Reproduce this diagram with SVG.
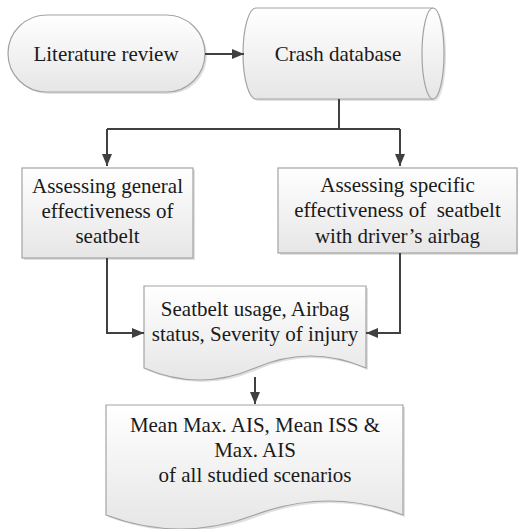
<svg xmlns="http://www.w3.org/2000/svg" width="518" height="529" viewBox="0 0 518 529">
<style>
.shape{fill:url(#g);stroke:#a3a3a3;stroke-width:1.2}
.sh{fill:#000;opacity:0.12}
.t{font-family:"Times New Roman",Times,"Liberation Serif","DejaVu Serif","Noto Serif",Tinos,FreeSerif,serif;font-size:21px;fill:#1a1a1a;text-anchor:middle;white-space:pre}
.c{fill:none;stroke:#404040;stroke-width:2}
</style>
<defs>
<linearGradient id="g" x1="0" y1="0" x2="0" y2="1">
<stop offset="0" stop-color="#ffffff"/>
<stop offset="1" stop-color="#e6e6e6"/>
</linearGradient>
<marker id="a" viewBox="0 0 12 10" refX="12" refY="5" markerWidth="12" markerHeight="10" markerUnits="userSpaceOnUse" orient="auto">
<path d="M0,0 L12,5 L0,10 Z" fill="#404040"/>
</marker>
</defs>
<g id="lit">
<rect class="sh" x="10" y="17" width="197" height="77" rx="38.5"/>
<rect class="shape" x="8" y="15" width="197" height="77" rx="38.5"/>
<text class="t" x="106" y="61">Literature review</text>
</g>
<g id="db">
<path class="sh" d="M258,10 H435 A11,45.5 0 0 1 435,101 H258 A13,45.5 0 0 1 258,10 Z"/>
<path class="shape" d="M256,8 H433 A11,45.5 0 0 1 433,99 H256 A13,45.5 0 0 1 256,8 Z"/>
<path d="M433,8 A11,45.5 0 0 0 433,99" fill="none" stroke="#a3a3a3" stroke-width="1.2"/>
<text class="t" x="338" y="61">Crash database</text>
</g>
<g id="general">
<rect class="sh" x="24" y="170" width="171" height="90"/>
<rect class="shape" x="22" y="168" width="171" height="90"/>
<text class="t" x="107.5" y="193">Assessing general</text>
<text class="t" x="107.5" y="218">effectiveness of</text>
<text class="t" x="107.5" y="243">seatbelt</text>
</g>
<g id="specific">
<rect class="sh" x="280" y="170" width="239" height="85"/>
<rect class="shape" x="278" y="168" width="239" height="85"/>
<text class="t" x="397.5" y="192">Assessing specific</text>
<text class="t" x="397.5" y="217">effectiveness of  seatbelt</text>
<text class="t" x="397.5" y="243">with driver’s airbag</text>
</g>
<g id="usage">
<path class="sh" d="M146,288 H368 V370 Q312,346 257,370 T146,370 Z"/>
<path class="shape" d="M144,286 H366 V368 Q310.5,344 255,368 T144,368 Z"/>
<text class="t" x="255" y="316">Seatbelt usage, Airbag</text>
<text class="t" x="255" y="341">status, Severity of injury</text>
</g>
<g id="result">
<path class="sh" d="M108,407 H405 V517 Q331,489 257,517 T108,517 Z"/>
<path class="shape" d="M106,405 H403 V515 Q329,487 254.5,515 T106,515 Z"/>
<text class="t" x="255" y="432">Mean Max. AIS, Mean ISS &amp;</text>
<text class="t" x="255" y="457">Max. AIS</text>
<text class="t" x="255" y="482">of all studied scenarios</text>
</g>
<g id="connectors">
<path class="c" d="M205,54 H244" marker-end="url(#a)"/>
<path class="c" d="M339,99 V129"/>
<path class="c" d="M107,129 H400"/>
<path class="c" d="M107,129 V166" marker-end="url(#a)"/>
<path class="c" d="M400,129 V166" marker-end="url(#a)"/>
<path class="c" d="M107,258 V333 H144" marker-end="url(#a)"/>
<path class="c" d="M400,253 V333 H366" marker-end="url(#a)"/>
<path class="c" d="M255,377 V404" marker-end="url(#a)"/>
</g>
</svg>
